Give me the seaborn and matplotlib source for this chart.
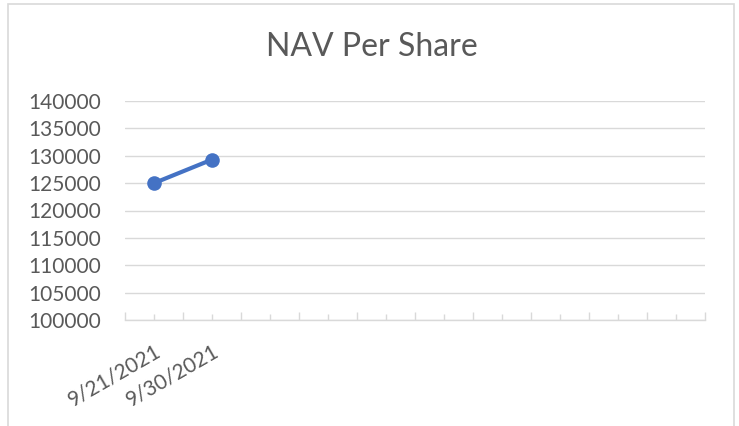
import numpy as np
import pandas as pd
import matplotlib
matplotlib.use("Agg")
import matplotlib.pyplot as plt
import seaborn as sns

# chart data
dates = ["9/21/2021", "9/30/2021", "", "", "", "", "", "", "", ""]
nav = [125000, 129300, np.nan, np.nan, np.nan, np.nan, np.nan, np.nan, np.nan, np.nan]
y_ticks = list(range(100000, 140001, 5000))

sns.set_theme(style="white")
plt.rcParams["font.family"] = ["Lato", "DejaVu Sans"]

df = pd.DataFrame({"pos": range(len(dates)), "nav": nav})

fig = plt.figure(figsize=(7.39, 4.26), dpi=100)
ax = fig.add_axes([125 / 739, 1 - 320 / 426, 580 / 739, 219 / 426])

grey = "#595959"
grid = "#d9d9d9"

sns.lineplot(data=df, x="pos", y="nav", ax=ax, color="#4472C4", linewidth=3,
             marker="o", markersize=10.5, markeredgewidth=0)

ax.set_xlim(-0.5, len(dates) - 0.5)
ax.set_ylim(y_ticks[0], y_ticks[-1])
ax.set_yticks(y_ticks)
ax.set_yticklabels([str(v) for v in y_ticks], fontsize=15, color=grey)
ax.yaxis.grid(True, color=grid, linewidth=1)
ax.set_axisbelow(True)

ax.set_xticks(range(len(dates)))
ax.set_xticklabels(dates, rotation=30, ha="right", rotation_mode="anchor",
                   fontsize=15, color=grey)
ax.set_xticks(np.arange(-0.5, len(dates)), minor=True)
ax.tick_params(axis="x", which="major", direction="in", length=4, width=1,
               color=grid, pad=15, bottom=True)
ax.tick_params(axis="x", which="minor", direction="in", length=6, width=1,
               color=grid, bottom=True)
ax.tick_params(axis="y", length=0, pad=17)

for s in ["top", "right", "left"]:
    ax.spines[s].set_visible(False)
ax.spines["bottom"].set_color(grid)
ax.spines["bottom"].set_linewidth(1)

ax.set_xlabel("")
ax.set_ylabel("")
fig.text(372 / 739, 1 - 47 / 426, "NAV Per Share", ha="center", va="center",
         fontsize=23, color=grey)

# chart area border
border = plt.Rectangle((8 / 739, -0.01), 726 / 739, 1 - 4 / 426 + 0.01,
                       transform=fig.transFigure, fill=False,
                       edgecolor=grid, linewidth=1.2)
fig.patches.append(border)

fig.savefig("out.png", dpi=100)
